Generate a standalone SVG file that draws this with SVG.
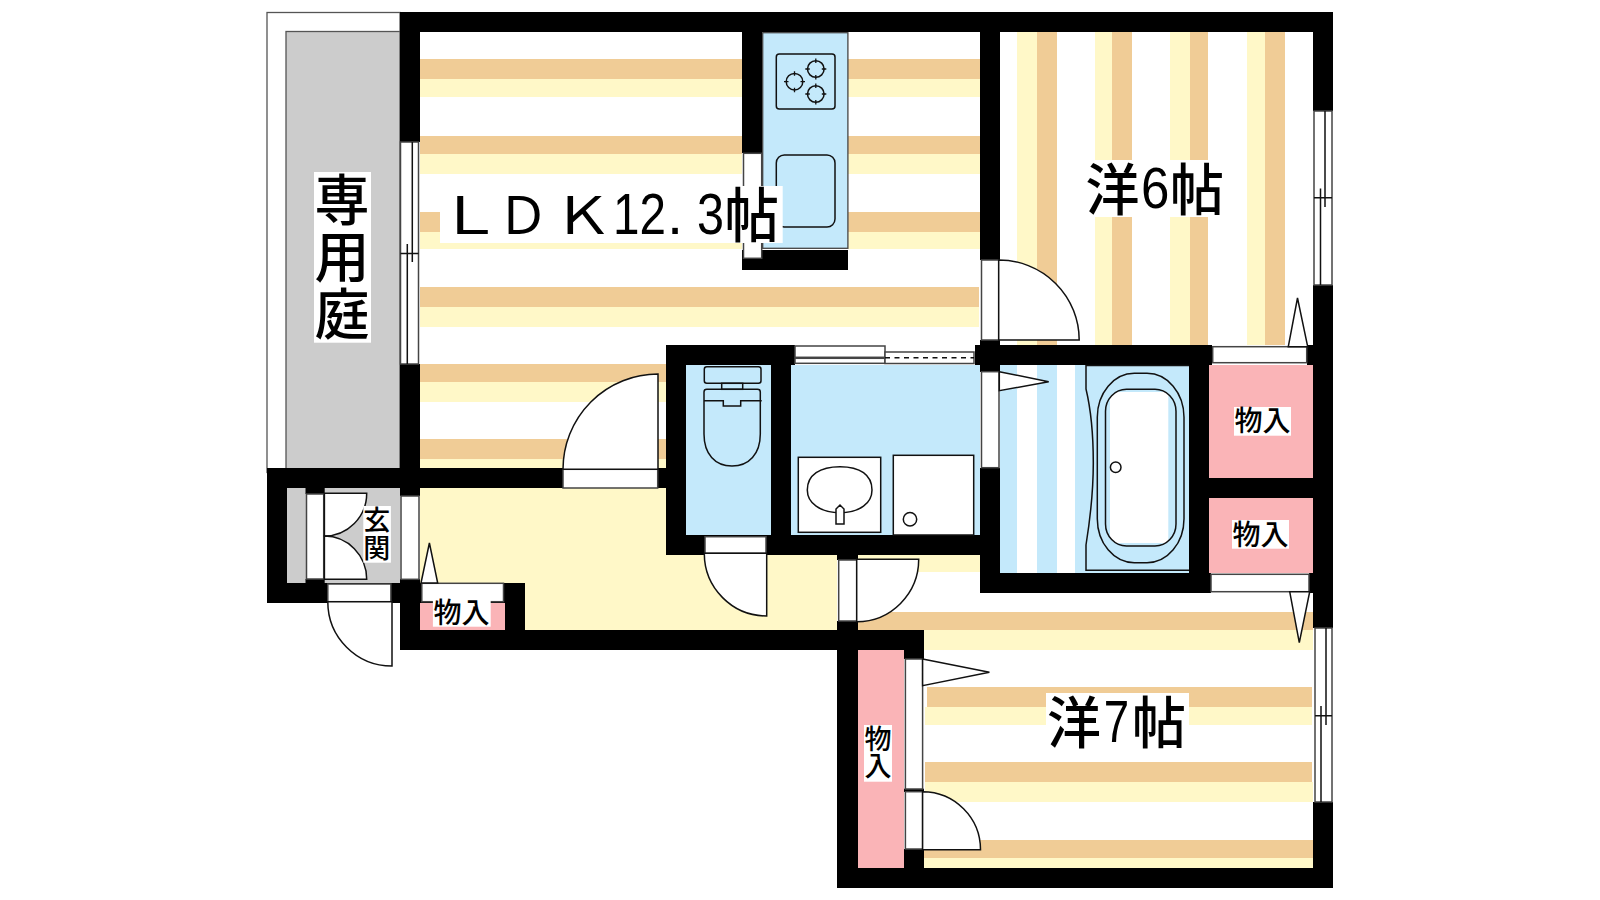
<svg xmlns="http://www.w3.org/2000/svg" width="1600" height="900" viewBox="0 0 1600 900">
<style>
.t{fill:#F0CC96}.c{fill:#FFF8C8}.b{fill:#C4E9FB}.p{fill:#FAB4B7}.g{fill:#CCCCCC}.w{fill:#FFFFFF}.k{fill:#000000}
.l{fill:#FFFFFF;stroke:#111111;stroke-width:1.5}
.n{fill:none;stroke:#111111;stroke-width:1.5}
.f{fill:#FFFFFF;stroke:#444444;stroke-width:1.5}
.x{font-family:"Noto Sans CJK JP","Liberation Sans",sans-serif;fill:#000000;font-weight:500}
.r{font-weight:400}
.d{font-family:"Liberation Sans","Noto Sans CJK JP",sans-serif;font-weight:400}
.v{writing-mode:vertical-rl}
</style>
<defs>
<g id="burner"><circle r="8.3" fill="none" stroke="#111111" stroke-width="1.5"/><path d="M-10.5 0H-6M6 0H10.5M0 -10.5V-6M0 6V10.5" stroke="#111111" stroke-width="1.3"/></g>
<clipPath id="tubclip"><rect x="1105.3" y="389.3" width="70.7" height="156.7" rx="20" ry="22"/></clipPath>
</defs>
<rect width="1600" height="900" fill="#FFFFFF"/>

<g id="garden">
<rect x="267" y="12.5" width="133" height="460" fill="#FFFFFF" stroke="#555555" stroke-width="1.3"/>
<rect x="286" y="31.5" width="114" height="440" class="g" stroke="#555555" stroke-width="1.3"/>
</g>

<g id="floors">
<rect x="287" y="488" width="113" height="95" class="g"/>
<g class="t">
<rect x="420" y="59" width="322" height="20"/><rect x="848" y="59" width="132" height="20"/>
<rect x="420" y="136" width="322" height="18"/><rect x="848" y="136" width="132" height="18"/>
<rect x="420" y="212" width="322" height="20"/><rect x="848" y="212" width="132" height="20"/>
<rect x="420" y="287" width="559" height="20"/>
<rect x="420" y="364" width="246" height="18"/>
<rect x="420" y="439" width="246" height="20"/>
<rect x="1037" y="32" width="20" height="313"/><rect x="1112" y="32" width="20" height="313"/><rect x="1190" y="32" width="18" height="313"/><rect x="1265" y="32" width="20" height="313"/>
<rect x="858" y="612" width="455" height="18"/>
<rect x="927" y="687" width="385" height="20"/>
<rect x="925" y="762" width="387" height="20"/>
<rect x="924" y="840" width="389" height="18"/>
</g>
<g class="c">
<rect x="420" y="79" width="322" height="18"/><rect x="848" y="79" width="132" height="18"/>
<rect x="420" y="154" width="322" height="20"/><rect x="848" y="154" width="132" height="20"/>
<rect x="420" y="232" width="322" height="17"/><rect x="848" y="232" width="132" height="17"/>
<rect x="420" y="307" width="559" height="20"/>
<rect x="420" y="382" width="246" height="20"/>
<rect x="420" y="459" width="246" height="9"/>
<rect x="1017" y="32" width="20" height="313"/><rect x="1095" y="32" width="17" height="313"/><rect x="1170" y="32" width="20" height="313"/><rect x="1247" y="32" width="18" height="313"/>
<rect x="420" y="488" width="417" height="142"/>
<rect x="858" y="555" width="122" height="17"/>
<rect x="924" y="630" width="389" height="20"/>
<rect x="925" y="707" width="387" height="18"/>
<rect x="925" y="782" width="388" height="20"/>
<rect x="924" y="858" width="389" height="10"/>
</g>
<rect class="b" x="686" y="365" width="85" height="170"/>
<rect class="b" x="791" y="365" width="189" height="170"/>
<rect class="b" x="1000" y="365" width="189" height="208"/>
<rect class="w" x="1017" y="365" width="20" height="208"/>
<rect class="w" x="1057" y="365" width="18" height="208"/>
<rect class="p" x="1209" y="365" width="104" height="113"/>
<rect class="p" x="1209" y="498" width="104" height="75"/>
<rect class="p" x="858" y="650" width="46" height="218"/>
<rect class="p" x="420" y="603" width="85" height="27"/>
</g>

<g id="walls" class="k">
<rect x="400" y="12" width="933" height="20"/>
<rect x="400" y="12" width="20" height="130"/>
<rect x="400" y="364" width="20" height="132"/>
<rect x="267" y="468" width="296" height="20"/>
<rect x="658" y="468" width="10" height="20"/>
<rect x="267" y="468" width="20" height="135"/>
<rect x="267" y="583" width="153" height="20"/>
<rect x="305.5" y="488" width="19.2" height="6"/>
<rect x="305.5" y="579" width="19.2" height="4"/>
<rect x="400" y="579" width="20" height="71"/>
<rect x="420" y="583" width="105" height="20"/>
<rect x="505" y="583" width="20" height="47"/>
<rect x="400" y="630" width="524" height="20"/>
<rect x="742" y="32" width="20" height="121"/>
<rect x="742" y="250" width="106" height="20"/>
<rect x="980" y="12" width="20" height="248"/>
<rect x="666" y="345" width="129" height="20"/>
<rect x="666" y="345" width="20" height="210"/>
<rect x="771" y="345" width="20" height="210"/>
<rect x="666" y="535" width="334" height="20"/>
<rect x="975" y="345" width="237" height="20"/>
<rect x="980" y="340" width="20" height="32"/>
<rect x="980" y="468" width="20" height="125"/>
<rect x="980" y="573" width="231" height="20"/>
<rect x="1189" y="345" width="20" height="248"/>
<rect x="1209" y="478" width="104" height="20"/>
<rect x="1307" y="345" width="26" height="20"/>
<rect x="1309" y="573" width="24" height="20"/>
<rect x="1313" y="12" width="20" height="99"/>
<rect x="1313" y="285" width="20" height="343"/>
<rect x="1313" y="802" width="20" height="86"/>
<rect x="837" y="555" width="21" height="5"/>
<rect x="837" y="621" width="21" height="267"/>
<rect x="904" y="630" width="20" height="29"/>
<rect x="904" y="788.7" width="20" height="3.3"/>
<rect x="904" y="849" width="20" height="19"/>
<rect x="837" y="868" width="496" height="20"/>
</g>

<g id="kitchen">
<rect x="762.7" y="32.7" width="85.2" height="215.6" class="b" stroke="#444444" stroke-width="1.3"/>
<rect x="776.3" y="54" width="58.7" height="55" rx="3" class="n"/>
<use href="#burner" x="815.8" y="69"/>
<use href="#burner" x="815.8" y="94"/>
<use href="#burner" x="794.5" y="81.7"/>
<rect x="776.3" y="155" width="58.7" height="72" rx="8" class="n"/>
<rect x="743.5" y="153.3" width="18.2" height="105" class="f"/>
</g>

<g id="toilet">
<rect x="704.3" y="366.7" width="56.7" height="16.6" rx="2.5" class="n"/>
<rect x="721.7" y="383.3" width="21" height="6" class="n"/>
<path class="n" d="M704 392V434C704 454 715 466 732 466C749 466 760.3 454 760.3 434V392Q760.3 389.3 757.5 389.3H706.8Q704 389.3 704 392Z"/>
<path class="n" d="M704 400.7H723.3V406H740.7V400.7H761.7"/>
</g>

<g id="washroom">
<rect x="798.3" y="457.3" width="82.4" height="75" class="l"/>
<path class="l" d="M807.3 490C807.3 475 820 466.7 840 466.7C860 466.7 872 475 872 490C872 503 860 512.7 840 512.7C820 512.7 807.3 503 807.3 490Z"/>
<path class="l" d="M836 524V509L840 505L844 509V524Z"/>
<rect x="893.3" y="455.3" width="80.4" height="79.7" class="l"/>
<circle cx="910" cy="519.3" r="6.7" class="l"/>
<rect x="795" y="346" width="90" height="11.3" class="f"/>
<rect x="795" y="358.3" width="90" height="5" class="f"/>
<rect x="885" y="352" width="89" height="11.5" class="f"/>
<path d="M885 357.7H974" stroke="#111111" stroke-width="1.5" stroke-dasharray="5 4.5" fill="none"/>
</g>

<g id="bath">
<path class="n" d="M1086 365V389C1091 410 1093.3 440 1093.3 463C1093.3 490 1090 520 1086 545V570.3H1189M1086 365.5H1189"/>
<rect x="1097.3" y="373.3" width="86.7" height="189.4" rx="37" ry="44" class="n"/>
<rect x="1110" y="392" width="58.3" height="151" fill="#FFFFFF" clip-path="url(#tubclip)"/>
<rect x="1105.5" y="389.3" width="70.5" height="156.7" rx="21" ry="22" class="n"/>
<circle cx="1115.7" cy="467.3" r="5.3" class="l"/>
</g>

<g id="doors">
<rect x="981.5" y="371.7" width="17.5" height="96" class="f"/>
<path class="l" d="M999.3 371.7L1048.7 381.7L999.3 390.7Z"/>
<rect x="981.5" y="260" width="17.2" height="80" class="f"/>
<path class="l" d="M998.7 260A80.5 80 0 0 1 1079.2 340H998.7Z"/>
<rect x="563" y="469.3" width="94.7" height="18.7" class="f"/>
<path class="l" d="M658 374V469.3H563A95 95.3 0 0 1 658 374Z"/>
<rect x="705" y="536.7" width="61" height="16.6" class="f"/>
<path class="l" d="M766.7 553.3V616A62.4 62.7 0 0 1 704.3 553.3Z"/>
<rect x="838.7" y="560" width="18" height="61" class="f"/>
<path class="l" d="M856.7 559.3H918.7A62 62.4 0 0 1 856.7 621.7Z"/>
<rect x="1212.7" y="346.7" width="94" height="16" class="f"/>
<path class="l" d="M1288.3 346.7L1297.5 298L1307.7 346.7Z"/>
<rect x="1211" y="574.3" width="98" height="17.4" class="f"/>
<path class="l" d="M1289.7 591.7L1299.3 642.7L1309.7 591.7Z"/>
<rect x="421.8" y="583.3" width="81.7" height="18.4" class="f"/>
<path class="l" d="M421 583L429.4 543L437.7 583Z"/>
<rect x="905.4" y="659" width="17.2" height="130" class="f"/>
<path class="l" d="M922.6 659L989.4 672.3L922.6 685.7Z"/>
<rect x="905.4" y="791.7" width="17.2" height="57.3" class="f"/>
<path class="l" d="M922.6 791.7A58 58 0 0 1 980.5 849.7H922.6Z"/>
<rect x="327.8" y="584" width="63.1" height="17.7" class="f"/>
<path class="l" d="M392 601.7V666A64.2 64.3 0 0 1 327.8 601.7Z"/>
<rect x="401" y="496" width="18" height="83.3" class="f"/>
<rect x="306.5" y="494" width="17.2" height="85" class="f"/>
<path class="l" d="M324.4 493.3H366.7A42.3 42.7 0 0 1 324.4 536Z"/>
<path class="l" d="M324.4 579.3H366.7A42.3 43.3 0 0 0 324.4 536Z"/>
</g>

<g id="windows">
<g fill="#FFFFFF" stroke="#444444" stroke-width="1.5">
<rect x="400.5" y="142" width="18" height="222"/>
<rect x="1314" y="111" width="18" height="174"/>
<rect x="1315" y="628" width="17" height="174"/>
</g>
<path class="n" d="M412.3 142V262M400.5 253.5H418.5M407.3 244V364"/>
<path class="n" d="M1325 111V207M1314 197.7H1332M1320.5 188.5V285"/>
<path class="n" d="M1326 628V725M1315 715.7H1332M1321 706V802"/>
</g>

<g id="labels">
<g class="w">
<rect x="314" y="172" width="57" height="170.7"/>
<rect x="440" y="186" width="342.7" height="57"/>
<rect x="1085" y="160" width="138" height="57"/>
<rect x="1046" y="693" width="143" height="54"/>
<rect x="363.3" y="506" width="27.6" height="56.7"/>
<rect x="432.9" y="599.3" width="57.8" height="27.4"/>
<rect x="1234" y="407" width="57" height="28.7"/>
<rect x="1232" y="520" width="57" height="28.7"/>
<rect x="864" y="725" width="28" height="56.7"/>
</g>
<text id="lbl-senyotei" class="x v" font-size="55" x="342" y="172" letter-spacing="1.7">専用庭</text>
<text id="lbl-ldk" class="x" font-size="52" y="234"><tspan class="r" x="437.5" textLength="65" lengthAdjust="spacingAndGlyphs">Ｌ</tspan><tspan class="r" x="497">Ｄ</tspan><tspan class="r" x="553" textLength="60" lengthAdjust="spacingAndGlyphs">Ｋ</tspan><tspan class="d" font-size="58" x="613" y="233.5" textLength="53" lengthAdjust="spacingAndGlyphs">12</tspan><tspan class="d" font-size="58" x="667">.</tspan><tspan class="d" font-size="58" x="697" textLength="27" lengthAdjust="spacingAndGlyphs">3</tspan><tspan font-size="58.8" x="724.5" y="237" textLength="54.5" lengthAdjust="spacingAndGlyphs">帖</tspan></text>
<text id="lbl-6" class="x" font-size="56" y="209.5"><tspan x="1085.5" textLength="54" lengthAdjust="spacingAndGlyphs">洋</tspan><tspan class="d" font-size="58" x="1141" y="208" textLength="28.4" lengthAdjust="spacingAndGlyphs">6</tspan><tspan x="1170" y="209.5" textLength="54" lengthAdjust="spacingAndGlyphs">帖</tspan></text>
<text id="lbl-7" class="x" font-size="56" y="742.5"><tspan x="1047" textLength="54" lengthAdjust="spacingAndGlyphs">洋</tspan><tspan class="d" font-size="60" x="1103.7" y="741.7" textLength="25.4" lengthAdjust="spacingAndGlyphs">7</tspan><tspan x="1132" y="742.5" textLength="54" lengthAdjust="spacingAndGlyphs">帖</tspan></text>
<text id="lbl-genkan" class="x v" font-size="27" x="376.7" y="506.5" letter-spacing="1">玄関</text>
<text id="lbl-c1" class="x" font-size="28" x="433.5" y="622.5">物入</text>
<text id="lbl-c2" class="x" font-size="28" x="1234.5" y="431">物入</text>
<text id="lbl-c3" class="x" font-size="28" x="1232.5" y="544.5">物入</text>
<text id="lbl-c4" class="x v" font-size="27" x="878" y="725.5">物入</text>
</g>
</svg>
